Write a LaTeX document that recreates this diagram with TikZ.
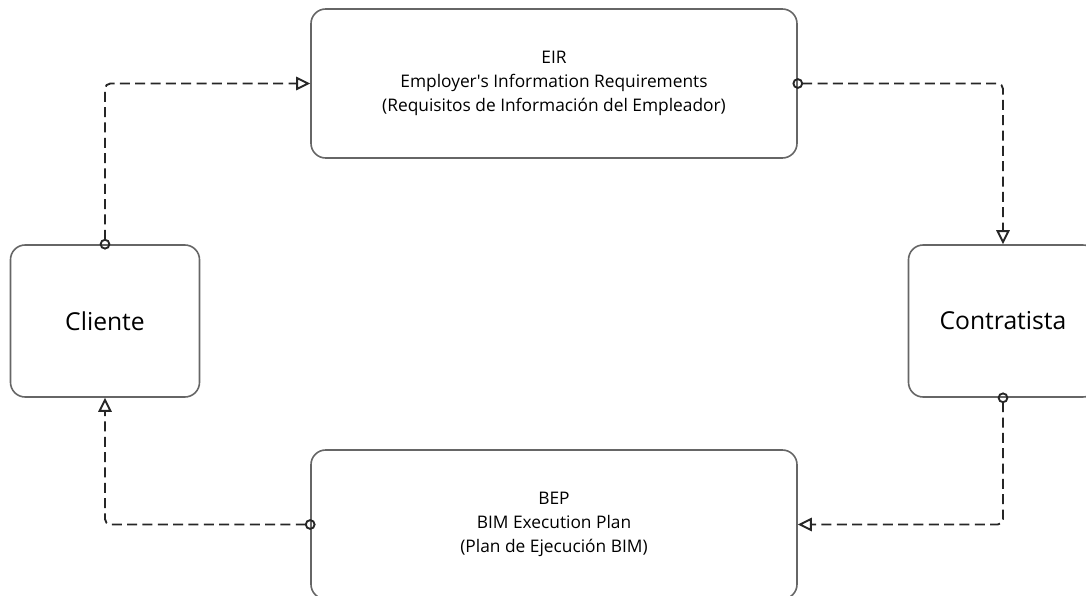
\documentclass[tikz,border=0pt]{standalone}
\usepackage{fontspec}
\setmainfont{Open Sans}
\usetikzlibrary{arrows.meta,positioning}

\tikzset{
  docbox/.style={draw=black!60, line width=1.2pt, rounded corners=11pt,
    align=center, minimum width=364.5pt, minimum height=111.75pt,
    font=\fontsize{13}{18}\selectfont},
  party/.style={draw=black!60, line width=1.2pt, rounded corners=11pt,
    minimum width=141.75pt, minimum height=114pt,
    font=\fontsize{18.5}{22}\selectfont},
  flow/.style={draw=black!85, line width=1.4pt, dash pattern=on 7.5pt off 4pt,
    rounded corners=4pt, shorten <=-4pt,
    {Circle[open,length=8pt,width=8pt]}-{Triangle[open,length=10.5pt,width=10pt]}}
}

\begin{document}
\begin{tikzpicture}[x=0.75pt,y=-0.75pt]
        \useasboundingbox (0,0) rectangle (1086,596);
        \clip (0,0) rectangle (1086,596);

        \node[docbox] (eir) at (554,83.5)
          {EIR\\Employer\textquotesingle s Information Requirements\\(Requisitos de Información del Empleador)};
        \node[docbox] (bep) at (554,524.5)
          {BEP\\BIM Execution Plan\\(Plan de Ejecución BIM)};
        \node[party] (cliente) at (105,321) {Cliente};
        \node[party] (contratista) at (1003,321) {Contratista};

        \draw[flow] (cliente.north) |- (eir.west);
        \draw[flow] (eir.east) -| (contratista.north);
        \draw[flow] (contratista.south) |- (bep.east);
        \draw[flow] (bep.west) -| (cliente.south);
\end{tikzpicture}
\end{document}
